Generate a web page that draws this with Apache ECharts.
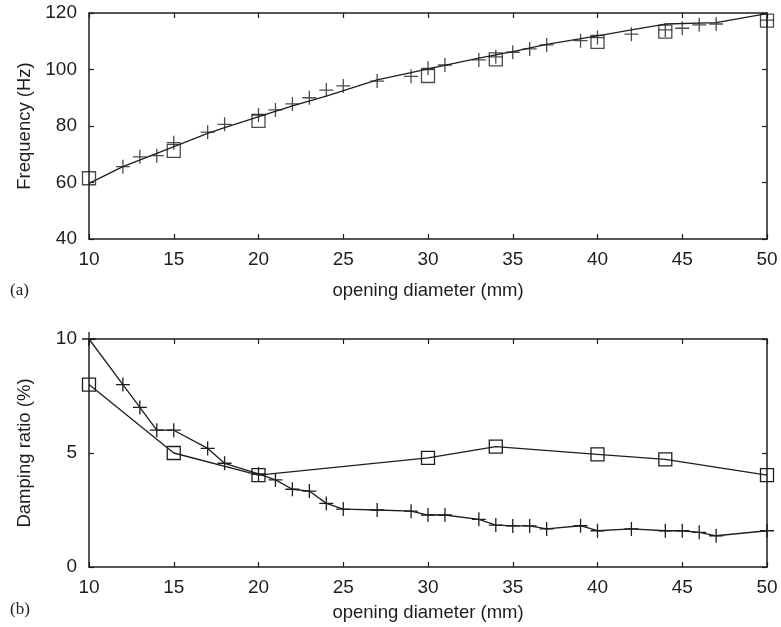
<!DOCTYPE html>
<html>
<head>
<meta charset="utf-8">
<script src="https://cdn.jsdelivr.net/npm/echarts@6/dist/echarts.min.js"></script>
<style>html,body{margin:0;padding:0;background:#fff}#c{width:781px;height:627px}</style>
</head>
<body>
<div id="c"></div>
<script>
// ---- data ----
const xTicks = [10, 15, 20, 25, 30, 35, 40, 45, 50];
const freqTicks = [40, 60, 80, 100, 120];
const dampTicks = [0, 5, 10];

const freqCrossX = [12,13,14,15,17,18,20,21,22,23,24,25,27,29,30,31,33,34,35,36,37,39,40,42,44,45,46,47,50];
const freqCrossY = [65.6,69.1,69.5,74.1,77.8,80.6,83.9,85.7,87.8,90.0,92.7,94.2,95.9,97.6,100.4,101.6,103.4,104.5,106.1,107.3,108.7,110.2,111.3,112.5,114.0,114.6,115.8,116.1,117.5];

const squareX = [10,15,20,30,34,40,44,50];
const freqSquareY = [61.5,71.2,81.8,97.7,103.6,109.8,113.4,117.3];

const freqLineX = [10,12,14,17,18,22,24,27,29,30,33,35,37,40,42,44,47,50];
const freqLineY = [59.7,65.6,70.3,77.4,79.4,87.1,90.6,96.3,98.9,100.2,104.0,106.3,108.9,111.9,114.0,116.1,116.6,119.8];

const dampCrossX = [10,12,13,14,15,17,18,20,21,22,23,24,25,27,29,30,31,33,34,35,36,37,39,40,42,44,45,46,47,50];
const dampCrossY = [10,8.0,7.0,6.0,6.0,5.2,4.55,4.08,3.82,3.41,3.33,2.79,2.54,2.5,2.45,2.28,2.28,2.09,1.84,1.80,1.80,1.67,1.81,1.59,1.67,1.59,1.59,1.52,1.37,1.59];
const dampSquareY = [8.0,5.0,4.03,4.79,5.28,4.94,4.72,4.03];

const xName = 'opening diameter (mm)';
const freqName = 'Frequency (Hz)';
const dampName = 'Damping ratio (%)';

// ---- helpers ----
const pair = (xs, ys) => xs.map((x, i) => [x, ys[i]]);
const INK = '#1e1e1e';
const FONT = 'Liberation Sans';
const CROSS = 'path://M0,5L10,5M5,0L5,10';

function xAx(grid, pos, labels, name, nameGap) {
  return {
    type: 'value', gridIndex: grid, position: pos,
    min: xTicks[0], max: xTicks[xTicks.length - 1], interval: 5,
    axisLine: { show: true, onZero: false, lineStyle: { color: INK, width: 1.5 } },
    axisTick: { show: true, inside: true, length: 5, lineStyle: { color: INK, width: 1.2 } },
    axisLabel: { show: labels, margin: 11, color: INK, fontFamily: FONT, fontSize: 19 },
    splitLine: { show: false },
    name: labels ? name : '', nameLocation: 'middle', nameGap: nameGap,
    nameTextStyle: { color: INK, fontFamily: FONT, fontSize: 18.5 }
  };
}
function yAx(grid, pos, labels, ticks, name, nameGap) {
  return {
    type: 'value', gridIndex: grid, position: pos,
    min: ticks[0], max: ticks[ticks.length - 1], interval: ticks[1] - ticks[0],
    axisLine: { show: true, onZero: false, lineStyle: { color: INK, width: 1.5 } },
    axisTick: { show: true, inside: true, length: 5, lineStyle: { color: INK, width: 1.2 } },
    axisLabel: { show: labels, margin: 12, color: INK, fontFamily: FONT, fontSize: 19 },
    splitLine: { show: false },
    name: labels ? name : '', nameLocation: 'middle', nameGap: nameGap,
    nameTextStyle: { color: INK, fontFamily: FONT, fontSize: 18.5 }
  };
}

const crossStyle = { symbol: CROSS, symbolSize: 14, itemStyle: { color: 'none', borderColor: INK, borderWidth: 1.3 } };
const squareStyle = { symbol: 'rect', symbolSize: 13, itemStyle: { color: 'rgba(0,0,0,0)', borderColor: INK, borderWidth: 1.3 } };

const chart = echarts.init(document.getElementById('c'), null, { renderer: 'canvas' });
chart.setOption({
  animation: false,
  backgroundColor: '#fff',
  grid: [
    { left: 89, top: 13, width: 678, height: 226 },
    { left: 89, top: 339, width: 678, height: 228 }
  ],
  xAxis: [
    xAx(0, 'bottom', true, xName, 42),
    xAx(0, 'top', false, '', 0),
    xAx(1, 'bottom', true, xName, 36),
    xAx(1, 'top', false, '', 0)
  ],
  yAxis: [
    yAx(0, 'left', true, freqTicks, freqName, 55),
    yAx(0, 'right', false, freqTicks, '', 0),
    yAx(1, 'left', true, dampTicks, dampName, 55),
    yAx(1, 'right', false, dampTicks, '', 0)
  ],
  graphic: [
    { type: 'text', left: 10, top: 282, style: { text: '(a)', fontFamily: 'Liberation Serif', fontSize: 17, fill: INK } },
    { type: 'text', left: 10, top: 601, style: { text: '(b)', fontFamily: 'Liberation Serif', fontSize: 17, fill: INK } }
  ],
  series: [
    { type: 'line', xAxisIndex: 0, yAxisIndex: 0, data: pair(freqLineX, freqLineY), showSymbol: false, symbol: 'none',
      lineStyle: { color: INK, width: 1.3 }, clip: false, z: 2 },
    Object.assign({ type: 'scatter', xAxisIndex: 0, yAxisIndex: 0, data: pair(freqCrossX, freqCrossY), clip: false, z: 3 }, crossStyle),
    Object.assign({ type: 'scatter', xAxisIndex: 0, yAxisIndex: 0, data: pair(squareX, freqSquareY), clip: false, z: 3 }, squareStyle),
    Object.assign({ type: 'line', xAxisIndex: 2, yAxisIndex: 2, data: pair(dampCrossX, dampCrossY), showSymbol: true,
      lineStyle: { color: INK, width: 1.3 }, clip: false, z: 3 }, crossStyle),
    Object.assign({ type: 'line', xAxisIndex: 2, yAxisIndex: 2, data: pair(squareX, dampSquareY), showSymbol: true,
      lineStyle: { color: INK, width: 1.3 }, clip: false, z: 3 }, squareStyle)
  ]
});
</script>
</body>
</html>
